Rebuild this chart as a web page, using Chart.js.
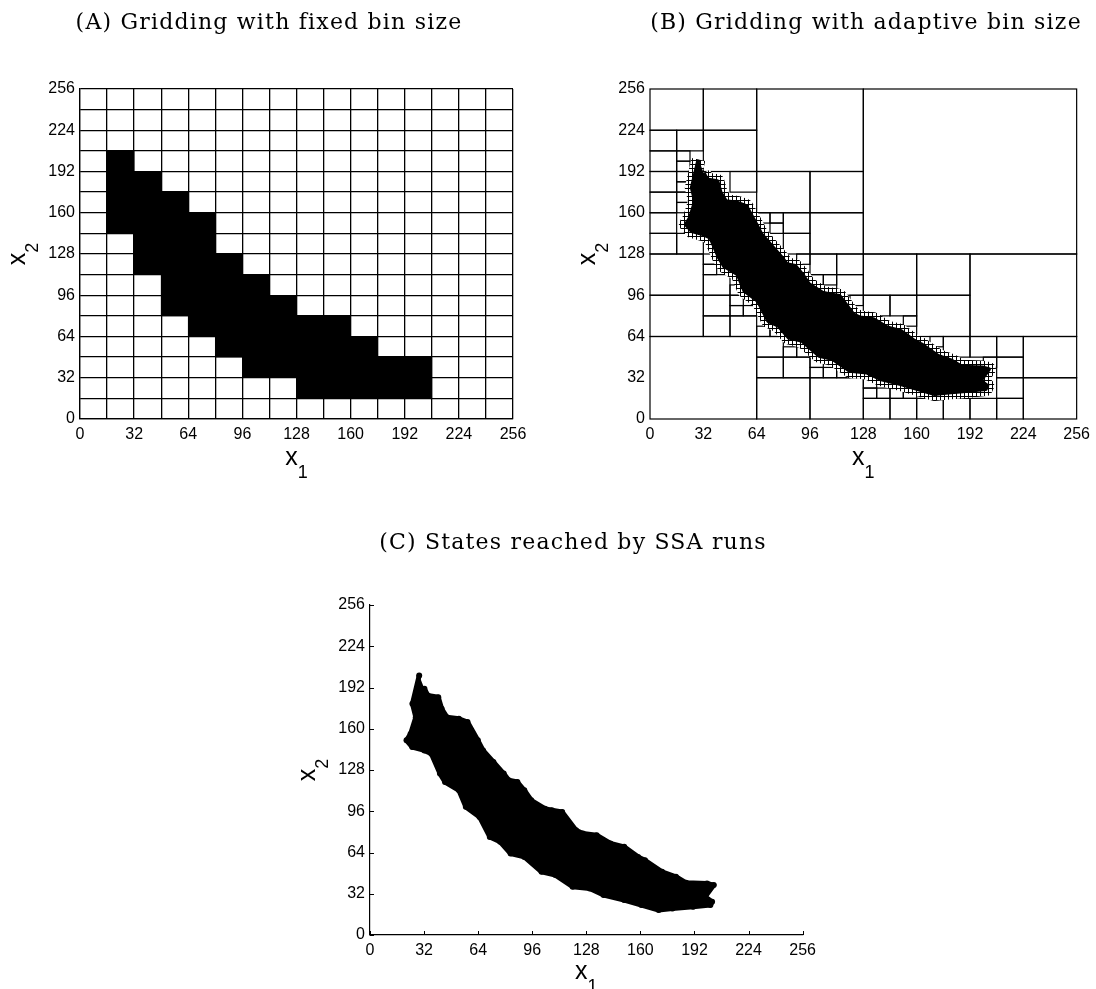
<!DOCTYPE html>
<html>
<head>
<meta charset="utf-8">
<script src="https://cdn.jsdelivr.net/npm/chart.js@4.4.1/dist/chart.umd.min.js"></script>
<style>
  body { margin: 0; background: #fff; width: 1096px; height: 989px; position: relative; overflow: hidden; }
  .panel { position: absolute; }
</style>
</head>
<body>
<div class="panel" style="left:0;top:0"><canvas id="chartA" width="548" height="494"></canvas></div>
<div class="panel" style="left:548px;top:0"><canvas id="chartB" width="548" height="494"></canvas></div>
<div class="panel" style="left:274px;top:494px"><canvas id="chartC" width="548" height="495"></canvas></div>
<script>
// Ticks
const tickLabels = [0, 32, 64, 96, 128, 160, 192, 224, 256];

// (A) fixed 16x16 bins that were hit, one column per x bin
const binSize = 16;
const binX0 = [16, 32, 48, 64, 80, 96, 112, 128, 144, 160, 176, 192];
const binLow = [144, 112, 80, 64, 48, 32, 32, 16, 16, 16, 16, 16];
const binHigh = [208, 192, 176, 160, 128, 112, 96, 80, 80, 64, 48, 48];

// (B) empty leaf boxes of the adaptive grid, [x0, y0, size]
const bigCells = [
    [0, 224, 32], [32, 224, 32], [64, 192, 64], [128, 128, 128],
    [0, 208, 16], [16, 208, 16], [0, 192, 16], [32, 192, 32],
    [0, 176, 16], [0, 160, 16], [0, 144, 16], [0, 128, 16], [16, 128, 16],
    [48, 176, 16],
    [0, 96, 32], [0, 64, 32], [32, 96, 16], [32, 80, 16], [32, 64, 16], [48, 64, 16],
    [64, 160, 32], [96, 160, 32], [96, 128, 32], [80, 144, 16], [80, 128, 16],
    [96, 112, 16], [112, 112, 16], [112, 96, 16],
    [128, 96, 32], [160, 96, 32], [160, 64, 32], [128, 80, 16], [144, 80, 16], [192, 64, 64],
    [176, 48, 16], [128, 0, 16], [144, 0, 16], [160, 0, 16], [176, 0, 16],
    [224, 32, 32], [224, 0, 32], [192, 48, 16], [208, 48, 16], [208, 32, 16],
    [192, 0, 16], [208, 0, 16], [208, 16, 16],
    [0, 0, 64], [64, 0, 32], [96, 0, 32], [64, 48, 16], [64, 32, 16], [80, 32, 16]
];
// 8x8 leaves along the edge of the band, [x0, y0]
const smallCells = [
    [16, 200], [16, 192], [16, 184], [16, 176], [16, 168], [16, 160],
    [32, 120], [32, 112], [48, 96], [48, 88], [48, 80], [56, 80],
    [64, 152], [72, 152], [72, 144], [88, 120],
    [96, 104], [104, 104], [64, 64], [72, 64], [120, 88],
    [152, 72], [168, 56],
    [128, 16], [136, 16], [128, 24], [144, 16], [152, 16],
    [200, 40],
    [80, 48], [88, 48], [96, 32], [104, 32], [96, 40], [112, 32]
];

// outline of the states reached by the SSA runs (B and C)
const cloudX = [29.1, 25.1, 27.1, 24, 21.6, 25, 32.2, 36.3, 41.4, 44.4, 52.6, 56.7, 64.8, 70.9, 77,
    83.2, 91.3, 101.5, 109.7, 119.9, 130, 138.2, 150.4, 160.6, 170.8, 179, 191.2, 201.4, 202.4,
    198.3, 203.4, 199.4, 187.1, 181, 172.8, 162.7, 158.6, 150.4, 142.3, 134.1, 126, 121.9, 113.7,
    107.6, 103.5, 95.4, 91.3, 87.2, 82.1, 79.1, 73, 66.9, 63.8, 57.7, 52.6, 45.5, 42.4, 40.4,
    34.2, 32.2];
const cloudY = [201.3, 179.4, 169, 156, 151, 145.8, 143.2, 140.6, 125.2, 118.7, 112.3, 99.4, 91.6,
    76.1, 72.3, 63.2, 60.6, 49, 46.5, 37.4, 36.1, 31, 27.1, 23.2, 19.4, 20.6, 21.9, 23.2, 25.8,
    29.7, 38.7, 40, 40.5, 45.2, 49, 58, 60.6, 68.4, 71, 77.4, 78.7, 81.3, 95.5, 96.8, 98, 104.5,
    112.3, 118.7, 120, 125.2, 134.2, 143.2, 151, 165.2, 167.7, 169, 175.5, 184.5, 185.8, 191];

const tickFont = { family: '"Liberation Sans", Arial, sans-serif', size: 16 };

function subLabel(ctx, sub, cx, base) {
    ctx.font = '25px "Liberation Sans"';
    const wx = ctx.measureText('x').width;
    ctx.font = '18px "Liberation Sans"';
    const ws = ctx.measureText(sub).width;
    const x0 = cx - (wx + ws) / 2;
    ctx.textAlign = 'left';
    ctx.textBaseline = 'alphabetic';
    ctx.font = '25px "Liberation Sans"';
    ctx.fillText('x', x0, base);
    ctx.font = '18px "Liberation Sans"';
    ctx.fillText(sub, x0 + wx, base + 13);
}

// panel title plus x1 / x2 axis names
const panelText = {
    id: 'panelText',
    afterDraw(chart, args, opts) {
        const { ctx, chartArea: a } = chart;
        ctx.save();
        ctx.fillStyle = '#000';
        ctx.textAlign = 'center';
        ctx.textBaseline = 'alphabetic';
        ctx.font = '22px "DejaVu Serif"';
        ctx.letterSpacing = '1.2px';
        ctx.fillText(opts.title, opts.titleX, opts.titleY);
        ctx.letterSpacing = '0px';
        subLabel(ctx, '1', (a.left + a.right) / 2, a.bottom + opts.xDrop);
        ctx.translate(a.left - 55, (a.top + a.bottom) / 2);
        ctx.rotate(-Math.PI / 2);
        subLabel(ctx, '2', 0, 0);
        ctx.restore();
    }
};

const quadCells = {
    id: 'quadCells',
    beforeDatasetsDraw(chart) {
        const { ctx, scales: { x, y } } = chart;
        ctx.save();
        ctx.strokeStyle = '#000';
        ctx.lineWidth = 1.2;
        const box = (x0, y0, s) => {
            const l = x.getPixelForValue(x0), r = x.getPixelForValue(x0 + s);
            const t = y.getPixelForValue(y0 + s), b = y.getPixelForValue(y0);
            ctx.strokeRect(l, t, r - l, b - t);
        };
        bigCells.forEach(c => box(c[0], c[1], c[2]));
        smallCells.forEach(c => box(c[0], c[1], 8));
        ctx.restore();
    }
};

// matlab style ticks pointing into the plot
const innerTicks = {
    id: 'innerTicks',
    afterDatasetsDraw(chart) {
        const { ctx, chartArea: a, scales: { x, y } } = chart;
        ctx.save();
        ctx.strokeStyle = '#000';
        ctx.lineWidth = 1;
        ctx.beginPath();
        tickLabels.forEach(v => {
            const px = Math.round(x.getPixelForValue(v)) + 0.5;
            ctx.moveTo(px, a.bottom);
            ctx.lineTo(px, a.bottom - 4);
            const py = Math.round(y.getPixelForValue(v)) + 0.5;
            ctx.moveTo(a.left, py);
            ctx.lineTo(a.left + 4, py);
        });
        ctx.stroke();
        ctx.restore();
    }
};

function axis(isX, step, gridOn, borderOn) {
    return {
        type: 'linear',
        min: 0,
        max: 256,
        offset: false,
        ticks: {
            stepSize: step,
            autoSkip: false,
            maxRotation: 0,
            color: '#000',
            font: tickFont,
            padding: isX ? 6 : 5,
            callback: v => tickLabels.includes(v) ? String(v) : ''
        },
        grid: { display: gridOn, color: '#000', lineWidth: 1.3, drawTicks: false, offset: false },
        border: { display: borderOn, color: '#000', width: 1.2 },
        afterFit: s => { if (isX) s.height = 30; else s.width = 80; }
    };
}

// tiny boxes, used as the stroke of the fine cells hugging the band in (B)
const meshCanvas = document.createElement('canvas');
meshCanvas.width = 4;
meshCanvas.height = 4;
const mctx = meshCanvas.getContext('2d');
mctx.fillStyle = '#fff';
mctx.fillRect(0, 0, 4, 4);
mctx.fillStyle = '#000';
mctx.fillRect(0, 0, 4, 1);
mctx.fillRect(0, 0, 1, 4);
const mesh = mctx.createPattern(meshCanvas, 'repeat');

const cloudPoints = cloudX.map((x, i) => ({ x: x, y: cloudY[i] }));

function cloudSet(width, dot) {
    return {
        data: cloudPoints,
        showLine: true,
        fill: 'shape',
        backgroundColor: '#000',
        borderColor: '#000',
        borderWidth: width,
        borderJoinStyle: 'round',
        pointRadius: dot,
        pointBackgroundColor: '#000',
        pointBorderWidth: 0,
        tension: 0,
        order: 0
    };
}

const base = { responsive: false, animation: false, events: [] };

new Chart(document.getElementById('chartA'), {
    type: 'bar',
    data: {
        datasets: [{
            data: binX0.map((x, i) => ({ x: x + binSize / 2, y: [binLow[i], binHigh[i]] })),
            backgroundColor: '#000',
            borderWidth: 0,
            barPercentage: 1,
            categoryPercentage: 1
        }]
    },
    options: {
        ...base,
        layout: { padding: { left: 0, right: 35, top: 89, bottom: 45 } },
        plugins: {
            legend: { display: false },
            tooltip: { enabled: false },
            panelText: { title: '(A) Gridding with fixed bin size', titleX: 269, titleY: 29, xDrop: 46 }
        },
        scales: { x: axis(true, 16, true, true), y: axis(false, 16, true, true) }
    },
    plugins: [panelText]
});

new Chart(document.getElementById('chartB'), {
    type: 'line',
    data: {
        datasets: [
            cloudSet(4, 0),
            {
                data: cloudPoints,
                showLine: true,
                fill: false,
                borderColor: mesh,
                borderWidth: 14,
                borderJoinStyle: 'round',
                pointRadius: 0,
                tension: 0,
                order: 1
            }
        ]
    },
    options: {
        ...base,
        layout: { padding: { left: 22, right: 13, top: 89, bottom: 45 } },
        plugins: {
            legend: { display: false },
            tooltip: { enabled: false },
            panelText: { title: '(B) Gridding with adaptive bin size', titleX: 318, titleY: 29, xDrop: 46 }
        },
        scales: { x: axis(true, 32, false, false), y: axis(false, 32, false, false) }
    },
    plugins: [quadCells, panelText]
});

new Chart(document.getElementById('chartC'), {
    type: 'line',
    data: { datasets: [cloudSet(5, 3)] },
    options: {
        ...base,
        layout: { padding: { left: 16, right: 19, top: 111, bottom: 24 } },
        plugins: {
            legend: { display: false },
            tooltip: { enabled: false },
            panelText: { title: '(C) States reached by SSA runs', titleX: 299, titleY: 55, xDrop: 44 }
        },
        scales: { x: axis(true, 32, false, true), y: axis(false, 32, false, true) }
    },
    plugins: [innerTicks, panelText]
});
</script>
</body>
</html>
